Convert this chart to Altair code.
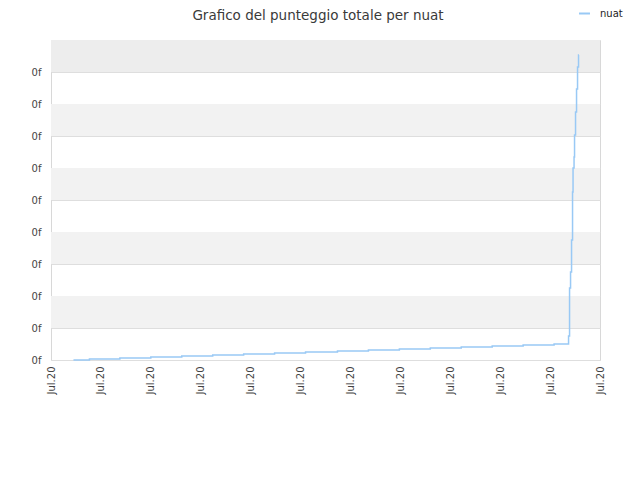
import altair as alt
import pandas as pd

title_text = ["Grafico del punteggio totale per nuat"]

# step series (x in axis units 0..11, y in axis units 0..10)
xs = [0.45, 0.77, 1.38, 2.0, 2.62, 3.24, 3.86, 4.48, 5.1, 5.74, 6.36, 6.98, 7.6, 8.22,
      8.84, 9.46, 10.08, 10.37, 10.39, 10.41, 10.43, 10.45, 10.46, 10.48, 10.49, 10.51,
      10.53, 10.55, 10.57, 10.58]
ys = [0.0, 0.03, 0.06, 0.09, 0.125, 0.156, 0.19, 0.22, 0.25, 0.28, 0.31, 0.34, 0.375,
      0.41, 0.44, 0.47, 0.5, 0.75, 2.25, 2.75, 3.75, 5.25, 6.0, 6.34, 7.03, 7.75,
      8.47, 9.16, 9.53, 9.53]
series = ["nuat"] * len(xs)

band_lo = [1, 3, 5, 7, 9]
band_hi = [2, 4, 6, 8, 10]
band_col = ["#f2f2f2", "#f2f2f2", "#f2f2f2", "#f2f2f2", "#ededed"]

df = pd.DataFrame({"x": xs, "y": ys, "s": series})
bands = pd.DataFrame({"lo": band_lo, "hi": band_hi, "c": band_col})
tdf = pd.DataFrame({"t": title_text})

xscale = alt.Scale(domain=[0, 11], nice=False, zero=False)
yscale = alt.Scale(domain=[0, 10], nice=False)

yaxis = alt.Axis(values=list(range(10)), labelExpr="'0f'", ticks=False,
                 labelPadding=10, gridColor="#dedede", domain=False,
                 labelFontSize=10, labelColor="#444", labelFont="DejaVu Sans")
xaxis = alt.Axis(values=list(range(12)), labelExpr="'Jul.20'", labelAngle=270,
                 labelAlign="right", labelBaseline="middle", labelPadding=6,
                 ticks=False, grid=False, domain=False, labelFontSize=10,
                 labelColor="#444", labelFont="DejaVu Sans")

band_layer = alt.Chart(bands).mark_rect().encode(
    x=alt.value(0), x2=alt.value(549),
    y=alt.Y("lo:Q", scale=yscale, title=None, axis=yaxis),
    y2="hi:Q",
    color=alt.Color("c:N", scale=None, legend=None),
)

line = alt.Chart(df).mark_line(interpolate="step-after", strokeWidth=1.5).encode(
    x=alt.X("x:Q", scale=xscale, title=None, axis=xaxis),
    y=alt.Y("y:Q", scale=yscale, title=None, axis=yaxis),
    color=alt.Color("s:N", scale=alt.Scale(range=["#99c9f5"]),
                    legend=alt.Legend(title=None, orient="none", legendX=527, legendY=-33,
                                      symbolType="stroke", symbolStrokeWidth=2,
                                      symbolSize=120, labelFontSize=10, labelOffset=9,
                                      labelColor="#222", labelFont="DejaVu Sans")),
)

title_layer = alt.Chart(tdf).mark_text(
    fontSize=13.5, font="DejaVu Sans", color="#3a3a3a", align="center", baseline="alphabetic"
).encode(x=alt.value(267), y=alt.value(-20), text="t:N")

chart = alt.layer(band_layer, line, title_layer).resolve_scale(color="independent").properties(
    width=549, height=320,
    autosize=alt.AutoSizeParams(type="none"),
    padding={"left": 43, "top": 32, "right": 32, "bottom": 112},
).configure_view(stroke="#d8d8d8", strokeWidth=1)

chart.save("out.html", embed_options={"renderer": "svg", "actions": False})
